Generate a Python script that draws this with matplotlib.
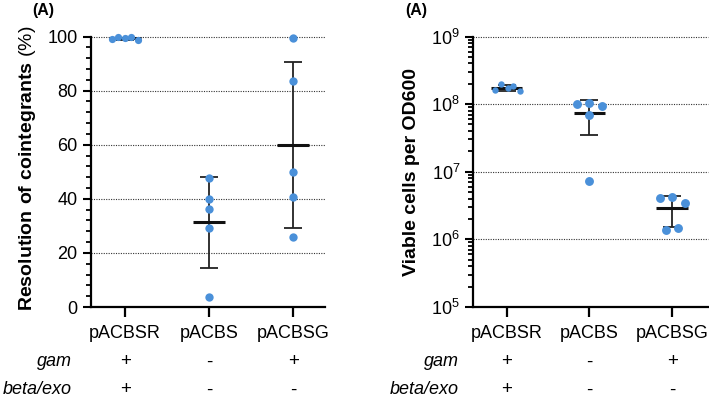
import numpy as np
import matplotlib
matplotlib.use("Agg")
import matplotlib.pyplot as plt
from matplotlib.ticker import MultipleLocator, LogLocator, NullFormatter, FixedLocator
from matplotlib.transforms import blended_transform_factory

plt.rcParams['font.family'] = ['Liberation Sans', 'DejaVu Sans']
plt.rcParams['mathtext.fontset'] = 'custom'
plt.rcParams['mathtext.rm'] = 'Liberation Sans'
plt.rcParams['mathtext.bf'] = 'Liberation Sans:bold'

# ---------------- data ----------------
categories = ["pACBSR", "pACBS", "pACBSG"]
resolution_pACBSR = [99.0, 100.0, 99.5, 99.9, 98.6]
resolution_pACBS = [47.8, 39.8, 36.3, 29.3, 3.7]
resolution_pACBSG = [99.4, 83.4, 49.9, 40.8, 25.9]
viable_pACBSR = [1.63e8, 1.98e8, 1.74e8, 1.87e8, 1.54e8]
viable_pACBS = [1.00e8, 1.03e8, 9.45e7, 6.87e7, 7.28e6]
viable_pACBSG = [4.08e6, 4.28e6, 3.40e6, 1.39e6, 1.47e6]
gam_row = ["+", "-", "+"]
betaexo_row = ["+", "-", "-"]
row_names = ["gam", "beta/exo"]
panel_label = "(A)"
left_ylabel_bold = "Resolution of cointegrants"
left_ylabel_unit = "(%)"
right_ylabel = "Viable cells per OD600"
left_yticks = [0, 20, 40, 60, 80, 100]
right_yticks = [1e5, 1e6, 1e7, 1e8, 1e9]

# ---------------- layout (swarm offsets, sizes) ----------------
left_offsets = [[-0.16, -0.08, 0.0, 0.07, 0.15], [0, 0, 0, 0, 0], [0, 0, 0, 0, 0]]
right_offsets = [[-0.14, -0.07, 0.01, 0.08, 0.157], [-0.15, 0.0, 0.15, 0.0, 0.0],
                 [-0.145, 0.0, 0.157, -0.073, 0.077]]
left_msize = [5.2, 6.0, 6.0]
right_msize = [4.6, 6.4, 6.4]

DOT = '#4A90D9'
W, H = 709, 401
fig = plt.figure(figsize=(W / 100, H / 100), dpi=100)

axL = fig.add_axes([90.7 / W, 1 - 307 / H, (325 - 90.7) / W, (307 - 36.5) / H])
axR = fig.add_axes([473.3 / W, 1 - 307 / H, (708 - 473.3) / W, (307 - 36.5) / H])


def style(ax):
    for s in ['top', 'right']:
        ax.spines[s].set_visible(False)
    for s in ['left', 'bottom']:
        ax.spines[s].set_linewidth(1.6)
    ax.tick_params(axis='both', which='major', direction='out', length=6, width=1.5,
                   labelsize=13, colors='black')
    ax.tick_params(axis='y', which='minor', direction='out', length=3.8, width=1.3)
    ax.tick_params(axis='x', which='major', length=7, width=1.6, pad=6)
    ax.set_xticks(range(len(categories)))
    ax.set_xticklabels(categories)


def draw_group(ax, groups, offsets, msizes, capsize):
    for i, vals in enumerate(groups):
        v = np.array(vals)
        m = v.mean()
        sd = v.std(ddof=1)
        ax.errorbar([i], [m], yerr=[[sd], [sd]], fmt='none', ecolor='#222222',
                    elinewidth=1.3, capsize=capsize, capthick=1.3, zorder=3)
        ax.hlines(m, i - 0.19, i + 0.19, colors='#111111', linewidth=2.2, zorder=4)
        xs = np.array(offsets[i]) + i
        ax.plot(xs, v, 'o', color=DOT, markersize=msizes[i], markeredgewidth=0,
                zorder=5, clip_on=False)


# Left panel
style(axL)
axL.set_xlim(-0.41, 2.38)
axL.set_ylim(0, 100)
axL.set_yticks(left_yticks)
axL.yaxis.set_minor_locator(MultipleLocator(4))
for t in left_yticks[1:]:
    axL.axhline(t, color='#333333', linestyle=(0, (1, 1.2)), linewidth=0.8, zorder=1,
                clip_on=False)
draw_group(axL, [resolution_pACBSR, resolution_pACBS, resolution_pACBSG],
           left_offsets, left_msize, 6.3)

# Right panel
style(axR)
axR.set_yscale('log')
axR.set_xlim(-0.404, 2.434)
axR.set_ylim(1e5, 1e9)
axR.yaxis.set_major_locator(FixedLocator(right_yticks))
axR.set_yticklabels([r'$\mathregular{10^{%d}}$' % int(np.log10(t)) for t in right_yticks])
axR.yaxis.set_minor_locator(LogLocator(base=10, subs=np.arange(2, 10)))
axR.yaxis.set_minor_formatter(NullFormatter())
axR.tick_params(axis='y', which='major', length=6)
for t in right_yticks[1:]:
    axR.axhline(t, color='#333333', linestyle=(0, (1, 1.2)), linewidth=0.8, zorder=1,
                clip_on=False)
draw_group(axR, [viable_pACBSR, viable_pACBS, viable_pACBSG],
           right_offsets, right_msize, 6.3)

# Axis labels
bold_part = left_ylabel_bold.replace(' ', r'\ ')
fig.text(28 / W, 1 - 168 / H, r'$\mathbf{%s}$ %s' % (bold_part, left_ylabel_unit),
         rotation=90, ha='center', va='center', fontsize=14)
fig.text(412 / W, 1 - 171.5 / H, right_ylabel, rotation=90, ha='center', va='center',
         fontsize=14, fontweight='bold')
fig.text(32 / W, 1 - 10 / H, panel_label, ha='left', va='center', fontsize=11.5,
         fontweight='bold')
fig.text(405 / W, 1 - 10 / H, panel_label, ha='left', va='center', fontsize=11.5,
         fontweight='bold')

# Genotype rows
row_vals = [gam_row, betaexo_row]
row_y = [1 - 362 / H, 1 - 390 / H]
for ax, xlab in [(axL, 72 / W), (axR, 459 / W)]:
    tr = blended_transform_factory(ax.transData, fig.transFigure)
    for name, vals, y in zip(row_names, row_vals, row_y):
        fig.text(xlab, y, name, ha='right', va='center', fontsize=13, style='italic')
        for i, s in enumerate(vals):
            ax.text(i, y, s, transform=tr, ha='center', va='center', fontsize=13.5,
                    clip_on=False)

fig.savefig('out.png', dpi=100)
